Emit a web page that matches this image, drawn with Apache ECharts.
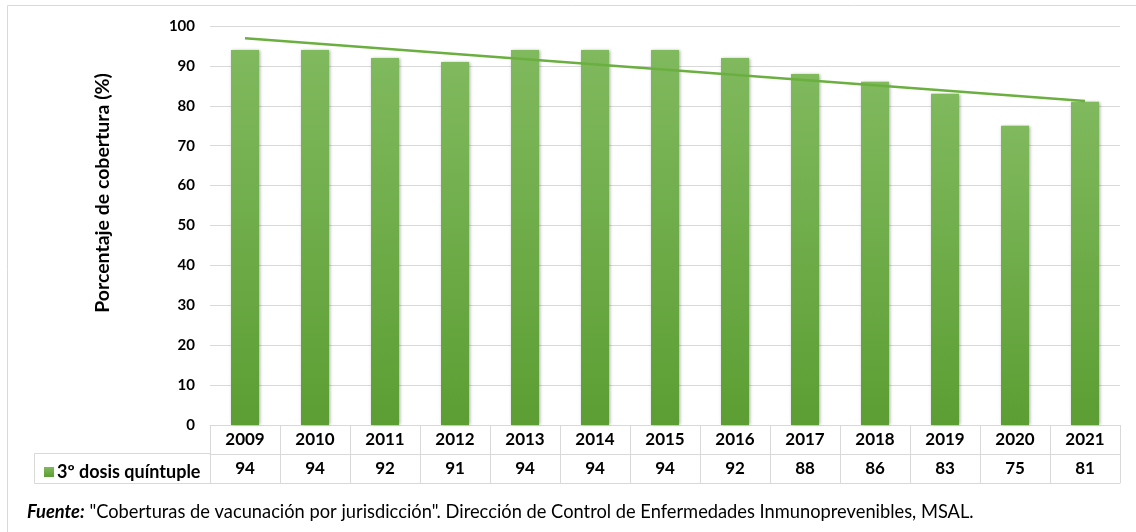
<!DOCTYPE html>
<html><head><meta charset="utf-8">
<script src="https://cdn.jsdelivr.net/npm/echarts@6/dist/echarts.min.js"></script>
<style>html,body{margin:0;padding:0;background:#fff}#c{width:1136px;height:532px}</style>
</head><body><div id="c"></div>
<script>
const categories = ['2009','2010','2011','2012','2013','2014','2015','2016','2017','2018','2019','2020','2021'];
const coverage = [94,94,92,91,94,94,94,92,88,86,83,75,81];
const trendEnds = [96.9, 81.2];
const seriesName = '3º dosis quíntuple';
const yAxisTitle = 'Porcentaje de cobertura (%)';
const sourceLabel = 'Fuente:';
const sourceText = ' "Coberturas de vacunación por jurisdicción". Dirección de Control de Enfermedades Inmunoprevenibles, MSAL.';

const FONT = 'Lato';
const GRID = '#d9d9d9';
const L = 210, R = 16, T = 26, B = 107;
const chart = echarts.init(document.getElementById('c'));
const option = {
  animation: false,
  textStyle: {fontFamily: FONT},
  grid: {left: L, right: R, top: T, bottom: B, containLabel: false},
  legend: {
    data: [{name: seriesName, icon: 'rect'}],
    left: 39, top: 458, itemWidth: 10, itemHeight: 10, itemGap: 6,
    selectedMode: false,
    textStyle: {fontFamily: FONT, fontWeight: 'bold', fontSize: 18, color: '#000', padding: [0,0,0,-2]}
  },
  xAxis: [
    {type: 'category', data: categories, position: 'bottom',
     axisLine: {lineStyle: {color: GRID, width: 1}},
     axisTick: {show: true, length: 58, interval: 0, lineStyle: {color: GRID}},
     axisLabel: {interval: 0, margin: 6, fontFamily: FONT, fontWeight: 'bold', fontSize: 17, color: '#000'}},
    {type: 'category', data: categories, position: 'bottom', offset: 29,
     axisLine: {show: true, lineStyle: {color: GRID, width: 1}},
     axisTick: {show: false},
     axisLabel: {interval: 0, margin: 6, fontFamily: FONT, fontWeight: 'bold', fontSize: 17, color: '#000',
       formatter: (v, i) => String(coverage[i])}},
    {type: 'category', data: categories, position: 'bottom', offset: 58,
     axisLine: {show: true, lineStyle: {color: GRID, width: 1}},
     axisTick: {show: false}, axisLabel: {show: false}}
  ],
  yAxis: {
    type: 'value', min: 0, max: 100, interval: 10,
    axisLine: {show: false}, axisTick: {show: false},
    axisLabel: {margin: 15, fontFamily: FONT, fontWeight: 'bold', fontSize: 15, color: '#000'},
    splitLine: {lineStyle: {color: GRID, width: 1}}
  },
  series: [
    {name: seriesName, type: 'bar', data: coverage, barWidth: '40%',
     itemStyle: {
       color: new echarts.graphic.LinearGradient(0, 0, 0, 1, [
         {offset: 0, color: '#80b95e'}, {offset: 1, color: '#5c9e33'}]),
       shadowColor: 'rgba(0,0,0,0.35)', shadowBlur: 3, shadowOffsetX: 1, shadowOffsetY: 0
     },
     legendHoverLink: false},
    {name: 'trend', type: 'line', symbol: 'none', silent: true,
     data: [[categories[0], trendEnds[0]], [categories[categories.length-1], trendEnds[1]]],
     lineStyle: {color: '#6aaf3f', width: 2.5}}
  ],
  graphic: [
    {type: 'rect', shape: {x: 7.5, y: 5.5, width: 1300, height: 700}, style: {fill: 'none', stroke: GRID, lineWidth: 1}, silent: true, z: -1},
    {type: 'line', shape: {x1: 34.5, y1: 453.5, x2: L, y2: 453.5}, style: {stroke: GRID, lineWidth: 1}},
    {type: 'line', shape: {x1: 34.5, y1: 483.5, x2: L, y2: 483.5}, style: {stroke: GRID, lineWidth: 1}},
    {type: 'line', shape: {x1: 34.5, y1: 453.5, x2: 34.5, y2: 483.5}, style: {stroke: GRID, lineWidth: 1}},
    {type: 'text', x: 103, y: 193, rotation: Math.PI / 2, style: {
      text: yAxisTitle, fontFamily: FONT, fontWeight: 'bold', fontSize: 19.5, fill: '#000',
      align: 'center', verticalAlign: 'middle'}},
    {type: 'text', left: 27, top: 503, style: {
      text: '{b|' + sourceLabel + '}{r|' + sourceText + '}',
      rich: {
        b: {fontFamily: FONT, fontWeight: 'bold', fontStyle: 'italic', fontSize: 18.3, fill: '#000'},
        r: {fontFamily: FONT, fontSize: 18.3, fill: '#000'}
      }}}
  ]
};
chart.setOption(option);
</script></body></html>
